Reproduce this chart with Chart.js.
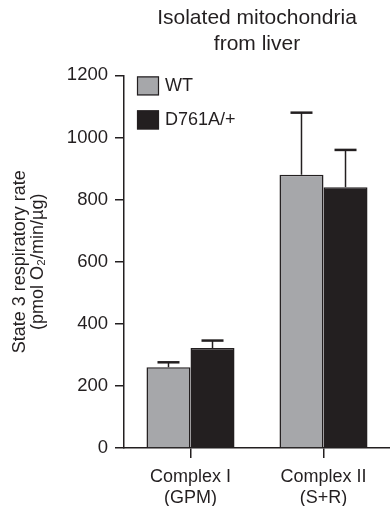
<!DOCTYPE html>
<html>
<head>
<meta charset="utf-8">
<script src="https://cdn.jsdelivr.net/npm/chart.js@4"></script>
<style>
html, body { margin: 0; padding: 0; background: #fff; }
canvas { display: block; }
</style>
</head>
<body>
<canvas id="chart" width="390" height="506"></canvas>
<script>
// data
const categories = [['Complex I', '(GPM)'], ['Complex II', '(S+R)']];
const seriesNames = ['WT', 'D761A/+'];
const wtValues = [260, 880];
const wtErrors = [16, 200];
const mutValues = [322, 840];
const mutErrors = [24, 120];
const yTicks = [0, 200, 400, 600, 800, 1000, 1200];

const ink = '#231f20';
const grey = '#a6a7aa';
const fontFamily = '"Liberation Sans", Arial, sans-serif';

// upward error bars with a cap
const errorBars = {
    id: 'errorBars',
    afterDatasetsDraw(chart) {
        const ctx = chart.ctx;
        const yScale = chart.scales.y;
        chart.data.datasets.forEach((ds, di) => {
            const meta = chart.getDatasetMeta(di);
            meta.data.forEach((bar, i) => {
                const top = yScale.getPixelForValue(ds.data[i]);
                const end = yScale.getPixelForValue(ds.data[i] + ds.errors[i]);
                ctx.save();
                ctx.strokeStyle = ink;
                ctx.lineWidth = 1.5;
                ctx.beginPath();
                ctx.moveTo(bar.x, top);
                ctx.lineTo(bar.x, end);
                ctx.stroke();
                ctx.lineWidth = 2.5;
                ctx.beginPath();
                ctx.moveTo(bar.x - 11, end);
                ctx.lineTo(bar.x + 11, end);
                ctx.stroke();
                ctx.restore();
            });
        });
    }
};

// legend drawn inside the plot, top left
const innerLegend = {
    id: 'innerLegend',
    afterDraw(chart) {
        const ctx = chart.ctx;
        const area = chart.chartArea;
        ctx.save();
        ctx.font = '18px ' + fontFamily;
        ctx.textBaseline = 'middle';
        chart.data.datasets.forEach((ds, i) => {
            const bx = area.left + 13;
            const by = area.top + 1 + i * 34;
            ctx.fillStyle = ds.backgroundColor;
            ctx.fillRect(bx, by, 22, 19);
            ctx.strokeStyle = ink;
            ctx.lineWidth = 1.2;
            ctx.strokeRect(bx + 0.5, by + 0.5, 21, 18);
            ctx.fillStyle = ink;
            ctx.fillText(ds.label, bx + 28, by + 10);
        });
        ctx.restore();
    }
};

new Chart(document.getElementById('chart'), {
    type: 'bar',
    data: {
        labels: categories,
        datasets: [{
            label: seriesNames[0],
            data: wtValues,
            errors: wtErrors,
            backgroundColor: grey,
            borderColor: ink,
            borderWidth: 1.5
        }, {
            label: seriesNames[1],
            data: mutValues,
            errors: mutErrors,
            backgroundColor: ink,
            borderColor: ink,
            borderWidth: 1.5
        }]
    },
    options: {
        responsive: false,
        animation: false,
        layout: { padding: 0 },
        datasets: {
            bar: { barPercentage: 1, categoryPercentage: 0.662 }
        },
        plugins: {
            legend: { display: false },
            tooltip: { enabled: false },
            title: {
                display: true,
                fullSize: false,
                text: ['Isolated mitochondria', 'from liver'],
                color: ink,
                font: { family: fontFamily, size: 21, weight: 'normal', lineHeight: 1.2 },
                padding: { top: 6, bottom: 19 }
            }
        },
        scales: {
            x: {
                grid: { offset: false, drawOnChartArea: false, tickLength: 10, color: ink, lineWidth: 1.5 },
                border: { color: ink, width: 1.5 },
                ticks: {
                    color: ink,
                    padding: 8,
                    maxRotation: 0,
                    font: { family: fontFamily, size: 18, lineHeight: 1.2 }
                },
                afterFit(scale) { scale.height = 58; }
            },
            y: {
                min: 0,
                max: 1200,
                afterBuildTicks(scale) { scale.ticks = yTicks.map(v => ({ value: v })); },
                grid: { drawOnChartArea: false, tickLength: 9, color: ink, lineWidth: 1.5 },
                border: { color: ink, width: 1.5 },
                ticks: {
                    color: ink,
                    padding: 7,
                    font: { family: fontFamily, size: 18.5 },
                    callback: v => String(v)
                },
                title: {
                    display: true,
                    text: ['State 3 respiratory rate', '(pmol O\u2082/min/\u00b5g)'],
                    color: ink,
                    font: { family: fontFamily, size: 18, lineHeight: 1 },
                    padding: { top: 11, bottom: 0 }
                },
                afterFit(scale) { scale.width = 124; }
            }
        }
    },
    plugins: [errorBars, innerLegend]
});
</script>
</body>
</html>
